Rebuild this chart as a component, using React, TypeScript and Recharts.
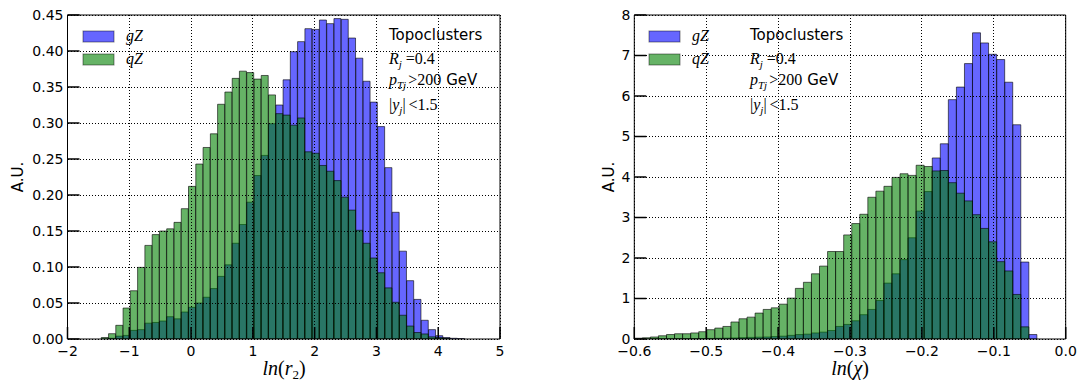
import React from 'react';
import { ComposedChart, Bar, XAxis, YAxis, CartesianGrid, ReferenceLine } from 'recharts';

// ---------- left panel: ln(r2) ----------
const leftBins = [
  -1.395, -1.277, -1.160, -1.042, -0.924, -0.807, -0.689, -0.571, -0.453, -0.336,
  -0.218, -0.100, 0.017, 0.135, 0.253, 0.371, 0.488, 0.606, 0.724, 0.841,
  0.959, 1.077, 1.194, 1.312, 1.430, 1.548, 1.665, 1.783, 1.901, 2.018,
  2.136, 2.254, 2.371, 2.489, 2.607, 2.725, 2.842, 2.960, 3.078, 3.195,
  3.313, 3.431, 3.548, 3.666, 3.784, 3.902, 4.019, 4.137, 4.255, 4.372,
];
const leftGZ = [
  0, 0.001, 0.004, 0.005, 0.012, 0.013, 0.022, 0.023, 0.025, 0.031,
  0.028, 0.0375, 0.044, 0.05, 0.058, 0.07, 0.087, 0.103, 0.133, 0.159,
  0.19, 0.227, 0.255, 0.299, 0.325, 0.36, 0.399, 0.413, 0.431, 0.43,
  0.443, 0.438, 0.445, 0.444, 0.418, 0.39, 0.358, 0.329, 0.295, 0.238,
  0.176, 0.122, 0.081, 0.055, 0.026, 0.013, 0.0046, 0.002, 0.001, 0.0005,
];
const leftQZ = [
  0.002, 0.0074, 0.019, 0.043, 0.067, 0.0995, 0.13, 0.145, 0.15, 0.153,
  0.162, 0.181, 0.212, 0.243, 0.266, 0.285, 0.326, 0.343, 0.362, 0.372,
  0.37, 0.361, 0.366, 0.339, 0.313, 0.311, 0.297, 0.307, 0.26, 0.258,
  0.241, 0.233, 0.22, 0.197, 0.179, 0.151, 0.133, 0.1125, 0.092, 0.071,
  0.051, 0.033, 0.018, 0.009, 0.007, 0.003, 0.002, 0.001, 0, 0,
];
const leftXTicks = [-2, -1, 0, 1, 2, 3, 4, 5];
const leftYTicks = [0, 0.05, 0.1, 0.15, 0.2, 0.25, 0.3, 0.35, 0.4, 0.45];

// ---------- right panel: ln(chi) ----------
const rightBins = [
  -0.5944, -0.5832, -0.572, -0.5608, -0.5496, -0.5384, -0.5272, -0.516, -0.5048, -0.4936,
  -0.4824, -0.4712, -0.46, -0.4488, -0.4376, -0.4264, -0.4152, -0.404, -0.3928, -0.3816,
  -0.3704, -0.3592, -0.348, -0.3368, -0.3256, -0.3144, -0.3032, -0.292, -0.2808, -0.2696,
  -0.2584, -0.2472, -0.236, -0.2248, -0.2136, -0.2024, -0.1912, -0.18, -0.1688, -0.1576,
  -0.1464, -0.1352, -0.124, -0.1128, -0.1016, -0.0904, -0.0792, -0.068, -0.0568, -0.0456,
];
const rightGZ = [
  0, 0, 0.002, 0.003, 0.005, 0.006, 0.008, 0.01, 0.012, 0.015,
  0.018, 0.022, 0.027, 0.033, 0.04, 0.045, 0.05, 0.06, 0.07, 0.09,
  0.11, 0.12, 0.15, 0.17, 0.21, 0.31, 0.36, 0.45, 0.6, 0.73,
  0.95, 1.38, 1.61, 1.96, 2.5, 3.16, 3.64, 4.47, 4.82, 5.91,
  6.22, 6.8, 7.56, 7.31, 7.03, 6.9, 6.34, 5.29, 1.9, 0.11,
];
const rightQZ = [
  0.02, 0.03, 0.05, 0.08, 0.11, 0.13, 0.13, 0.15, 0.18, 0.23,
  0.27, 0.31, 0.42, 0.5, 0.54, 0.64, 0.73, 0.77, 0.86, 1.01,
  1.25, 1.4, 1.61, 1.8, 2.16, 2.16, 2.57, 2.85, 3.08, 3.5,
  3.65, 3.77, 3.99, 4.08, 4.04, 4.29, 4.26, 4.15, 4.16, 3.86,
  3.6, 3.41, 3.07, 2.73, 2.4, 1.91, 1.68, 1.1, 0.3, 0,
];
const rightXTicks = [-0.6, -0.5, -0.4, -0.3, -0.2, -0.1, 0];
const rightYTicks = [0, 1, 2, 3, 4, 5, 6, 7, 8];

const leftData = leftBins.map((x, i) => ({ x, gZ: leftGZ[i], qZ: leftQZ[i] }));
const rightData = rightBins.map((x, i) => ({ x, gZ: rightGZ[i], qZ: rightQZ[i] }));

const MINUS = '\u2212';
const fmt = (v: number, d: number) => {
  const s = Math.abs(v).toFixed(d);
  return v < -1e-9 ? MINUS + s : s;
};

const SANS = 'DejaVu Sans';
const SERIF = 'Liberation Serif';

type PanelProps = {
  left: number;
  data: any[];
  xDomain: [number, number];
  xTicks: number[];
  yDomain: [number, number];
  yTicks: number[];
  xDec: number;
  yDec: number;
  mLeft: number;
  mRight: number;
};

function Panel(p: PanelProps) {
  const tickStyle = { fontFamily: SANS, fontSize: 14, fill: '#000' };
  return (
    <div style={{ position: 'absolute', left: p.left, top: 0 }}>
      <ComposedChart
        width={520}
        height={381}
        data={p.data}
        margin={{ top: 15, right: p.mRight, bottom: 0, left: p.mLeft }}
        barCategoryGap={0}
        barGap={0}
      >
        <XAxis
          xAxisId="x"
          dataKey="x"
          type="number"
          domain={p.xDomain}
          ticks={p.xTicks}
          interval={0}
          allowDataOverflow
          tickFormatter={(v: number) => fmt(v, p.xDec)}
          tick={tickStyle}
          tickSize={-12}
          tickMargin={19}
          height={42}
          axisLine={{ stroke: '#000', strokeWidth: 1 }}
          tickLine={{ stroke: '#000', strokeWidth: 1.5 }}
        />
        <XAxis xAxisId="x2" dataKey="x" type="number" domain={p.xDomain} allowDataOverflow hide />
        <YAxis
          yAxisId="y"
          type="number"
          domain={p.yDomain}
          ticks={p.yTicks}
          interval={0}
          allowDataOverflow
          tickFormatter={(v: number) => fmt(v, p.yDec)}
          tick={tickStyle}
          tickSize={-12}
          tickMargin={16}
          width={60}
          axisLine={{ stroke: '#000', strokeWidth: 1 }}
          tickLine={{ stroke: '#000', strokeWidth: 1.5 }}
        />
        <Bar
          xAxisId="x2"
          yAxisId="y"
          dataKey="gZ"
          fill="#0000ff"
          fillOpacity={0.6}
          stroke="#000"
          strokeOpacity={0.6}
          strokeWidth={1}
          isAnimationActive={false}
        />
        <Bar
          xAxisId="x"
          yAxisId="y"
          dataKey="qZ"
          fill="#008000"
          fillOpacity={0.6}
          stroke="#000"
          strokeOpacity={0.6}
          strokeWidth={1}
          isAnimationActive={false}
        />
        <CartesianGrid
          xAxisId="x"
          yAxisId="y"
          stroke="#000"
          strokeDasharray="1 2"
          strokeWidth={1}
          fill="none"
          shapeRendering="crispEdges"
          zIndex={450}
        />
        <ReferenceLine xAxisId="x" yAxisId="y" y={p.yDomain[1]} stroke="#000" strokeWidth={1} />
        <ReferenceLine xAxisId="x" yAxisId="y" x={p.xDomain[1]} stroke="#000" strokeWidth={1} />
      </ComposedChart>
    </div>
  );
}

function Annotations({ x }: { x: number }) {
  return (
    <g>
      <text x={x} y={40} fontFamily={SANS} fontSize={15} fill="#000">Topoclusters</text>
      <text x={x} y={64} fontFamily={SERIF} fontSize={16} fill="#000">
        <tspan fontStyle="italic">R</tspan>
        <tspan fontStyle="italic" fontSize={11} dy={4}>j</tspan>
        <tspan dy={-4} dx={4}>=0.4</tspan>
      </text>
      <text x={x} y={85} fontFamily={SERIF} fontSize={16} fill="#000">
        <tspan fontStyle="italic">p</tspan>
        <tspan fontStyle="italic" fontSize={11} dy={4}>Tj</tspan>
        <tspan dy={-4} dx={2}>&gt;200</tspan>
        <tspan fontFamily={SANS} fontSize={15} dx={5}>GeV</tspan>
      </text>
      <text x={x} y={110} fontFamily={SERIF} fontSize={16} fill="#000">
        <tspan>|</tspan>
        <tspan fontStyle="italic">y</tspan>
        <tspan fontStyle="italic" fontSize={11} dy={4}>j</tspan>
        <tspan dy={-4}>|</tspan>
        <tspan dx={3}>&lt;1.5</tspan>
      </text>
    </g>
  );
}

function LegendBox({ x, tx }: { x: number; tx: number }) {
  return (
    <g>
      <rect x={x} y={31} width={31} height={11} fill="#6666ff" stroke="#000" strokeOpacity={0.45} />
      <text x={tx} y={41} fontFamily={SERIF} fontStyle="italic" fontSize={16} fill="#000">gZ</text>
      <rect x={x} y={54} width={31} height={11} fill="#66b366" stroke="#000" strokeOpacity={0.45} />
      <text x={tx} y={64} fontFamily={SERIF} fontStyle="italic" fontSize={16} fill="#000">qZ</text>
    </g>
  );
}

export default function App() {
  return (
    <div style={{ position: 'absolute', left: 0, top: 0, width: 1085, height: 381, background: '#fff' }}>
      <Panel
        left={0}
        data={leftData}
        xDomain={[-2, 5]}
        xTicks={leftXTicks}
        yDomain={[0, 0.45]}
        yTicks={leftYTicks}
        xDec={0}
        yDec={2}
        mLeft={7.5}
        mRight={20}
      />
      <Panel
        left={560}
        data={rightData}
        xDomain={[-0.6, 0]}
        xTicks={rightXTicks}
        yDomain={[0, 8]}
        yTicks={rightYTicks}
        xDec={1}
        yDec={0}
        mLeft={14.3}
        mRight={14.3}
      />
      <svg
        width={1085}
        height={381}
        style={{ position: 'absolute', left: 0, top: 0, pointerEvents: 'none' }}
      >
        <text x={18} y={177} transform="rotate(-90 18 177)" textAnchor="middle" dominantBaseline="central"
          fontFamily={SANS} fontSize={15} fill="#000">A.U.</text>
        <text x={609} y={177} transform="rotate(-90 609 177)" textAnchor="middle" dominantBaseline="central"
          fontFamily={SANS} fontSize={15} fill="#000">A.U.</text>

        <text x={284} y={375} textAnchor="middle" fontFamily={SERIF} fontSize={20} fill="#000">
          <tspan fontStyle="italic">ln</tspan>
          <tspan>(</tspan>
          <tspan fontStyle="italic">r</tspan>
          <tspan fontSize={13} dy={4}>2</tspan>
          <tspan dy={-4}>)</tspan>
        </text>
        <text x={850} y={375} textAnchor="middle" fontFamily={SERIF} fontSize={20} fill="#000">
          <tspan fontStyle="italic">ln</tspan>
          <tspan>(</tspan>
          <tspan fontStyle="italic">χ</tspan>
          <tspan>)</tspan>
        </text>

        <LegendBox x={83} tx={126} />
        <LegendBox x={649} tx={692} />
        <Annotations x={389} />
        <Annotations x={750} />
      </svg>
    </div>
  );
}
